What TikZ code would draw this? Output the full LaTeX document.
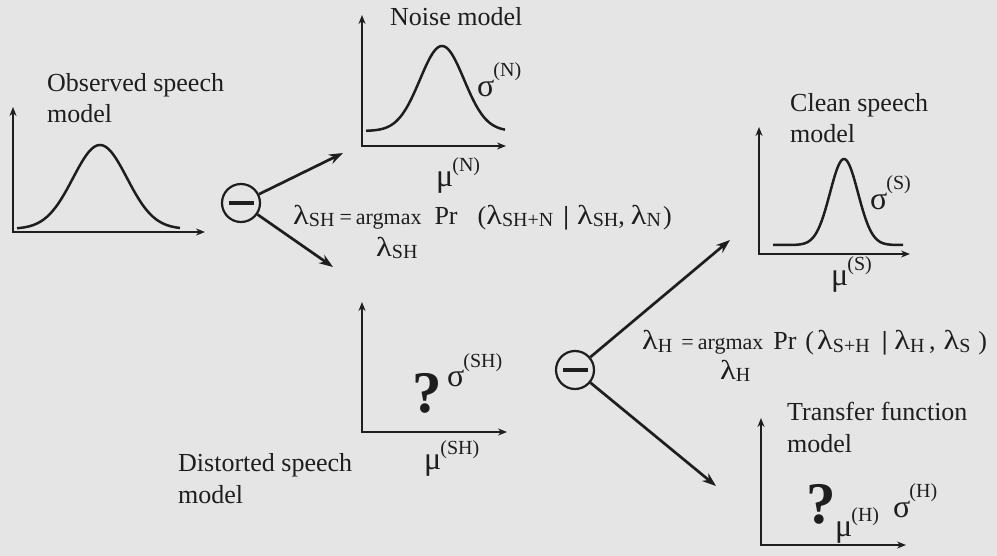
\documentclass[tikz,border=0pt]{standalone}
\usepackage{graphicx}
\usepackage{fontspec}
\setmainfont{Liberation Serif}
\usetikzlibrary{arrows.meta}
\definecolor{paper}{HTML}{E5E5E5}
\definecolor{ink}{HTML}{1E1E1E}
% bell curve in picture units: base, height, centre, spread
\newcommand{\bell}[4]{#1-#2*exp(-(\x-#3)*(\x-#3)/(2*#4*#4))}
\newcommand{\lam}{\scalebox{1.25}[1.05]{λ}}
\newcommand{\lsub}[1]{\lam\raisebox{-2pt}{\fontsize{20}{20}\selectfont #1}}
% symbol with a raised label: raise, kern, symbol, label
\newcommand{\lsup}[4]{{\fontsize{32}{32}\selectfont #3}\kern#2\raisebox{#1}{\fontsize{20}{20}\selectfont #4}}
\newcommand{\argm}{{\fontsize{22}{22}\selectfont =\kern4pt argmax}}

\begin{document}
\begin{tikzpicture}[
  x=1pt,
  y=-1pt,
  every node/.style={ink, inner sep=0pt},
  title/.style={font=\fontsize{26}{31.5}\selectfont, align=left, anchor=base west},
  sym/.style={anchor=base west},
  quest/.style={font=\fontsize{59}{59}\selectfont\bfseries, anchor=base west},
  formula/.style={font=\fontsize{26}{26}\selectfont, anchor=base west},
  axis/.style={ink, line width=1.9pt, {Stealth[length=9pt,width=7pt]}-{Stealth[length=9pt,width=7pt]}},
  curve/.style={ink, line width=2.5pt, line join=round},
  minus/.style={circle, draw=ink, line width=2.2pt, minimum size=38pt},
  link/.style={ink, line width=2.7pt, -{Stealth[length=14pt,width=10pt]}}
]
  \fill[paper] (0,0) rectangle (997,556);
  \useasboundingbox (0,0) rectangle (997,556);

  % ---------------- observed speech model -----------------------------
  % titles sit on the baseline of their last line
  \node[title] (obslabel) at (47,123) {Observed speech\\model};
  \draw[axis] (13,107) |- (205,232);
  \draw[curve] plot[domain=17:180, samples=120, smooth] (\x,{\bell{229}{84}{100}{27}});

  % ---------------- noise model ---------------------------------------
  \node[title] (noiselabel) at (390,26) {Noise model};
  \draw[axis] (362,15) |- (506,146);
  \draw[curve] plot[domain=366:505, samples=120, smooth] (\x,{\bell{131}{85}{442}{22}});
  \node[sym] (sigN) at (477,97) {\lsup{20pt}{-1pt}{σ}{(N)}};
  \node[sym] (muN) at (436,187) {\lsup{15pt}{-1pt}{μ}{(N)}};

  % ---------------- first subtraction ---------------------------------
  \node[minus] (minusN) at (241,203) {\rule{25pt}{3.2pt}};
  \coordinate (noisetip) at (343,153);
  \coordinate (shtip) at (333,267);
  \draw[link] (minusN) -- (noisetip);
  \draw[link] (minusN) -- (shtip);

  \node[formula] (estSH) at (293,225)
    {\lsub{SH}\kern5pt\argm\hspace{13pt}Pr\hspace{20pt}(\lsub{SH+N}\hspace{10pt}\textbf{|}\hspace{8pt}\lsub{SH},\hspace{6pt}\lsub{N}\hspace{2pt})};
  \node[formula] (argSH) at (376,257) {\lsub{SH}};

  % ---------------- clean speech model --------------------------------
  \node[title] (cleanlabel) at (790,143) {Clean speech\\model};
  \draw[axis] (759,127) |- (910,254);
  \draw[curve] plot[domain=773:903, samples=120, smooth] (\x,{\bell{245}{86}{844}{14}});
  \node[sym] (sigS) at (870,210) {\lsup{20pt}{-1pt}{σ}{(S)}};
  \node[sym] (muS) at (831,286) {\lsup{15pt}{-1pt}{μ}{(S)}};

  % ---------------- distorted speech model ----------------------------
  \node[title] (distlabel) at (178,503) {Distorted speech\\model};
  \draw[axis] (362,302) |- (507,432);
  \node[quest] (qSH) at (412,413) {?};
  \node[sym] (sigSH) at (447,387) {\lsup{20pt}{-1pt}{σ}{(SH)}};
  \node[sym] (muSH) at (424,469) {\lsup{15pt}{-1pt}{μ}{(SH)}};

  % ---------------- second subtraction --------------------------------
  \node[minus] (minusH) at (575,370) {\rule{25pt}{3.2pt}};
  \coordinate (cleantip) at (730,240);
  \coordinate (tftip) at (716,486);
  \draw[link] (minusH) -- (cleantip);
  \draw[link] (minusH) -- (tftip);

  \node[formula] (estH) at (642,350)
    {\lsub{H}\kern9pt\argm\hspace{10pt}Pr\hspace{9pt}(\hspace{3pt}\lsub{S+H}\hspace{12pt}\textbf{|}\hspace{7pt}\lsub{H}\,,\hspace{8pt}\lsub{S}\hspace{8pt})};
  \node[formula] (argH) at (720,379) {\lsub{H}};

  % ---------------- transfer function model ---------------------------
  \node[title] (tflabel) at (787,452) {Transfer function\\model};
  \draw[axis] (761,418) |- (906,545);
  \node[quest] (qH) at (806,523) {?};
  \node[sym] (muH) at (835,536) {\lsup{15pt}{-1pt}{μ}{(H)}};
  \node[sym] (sigH) at (893,517) {\lsup{20pt}{-1pt}{σ}{(H)}};
\end{tikzpicture}
\end{document}
